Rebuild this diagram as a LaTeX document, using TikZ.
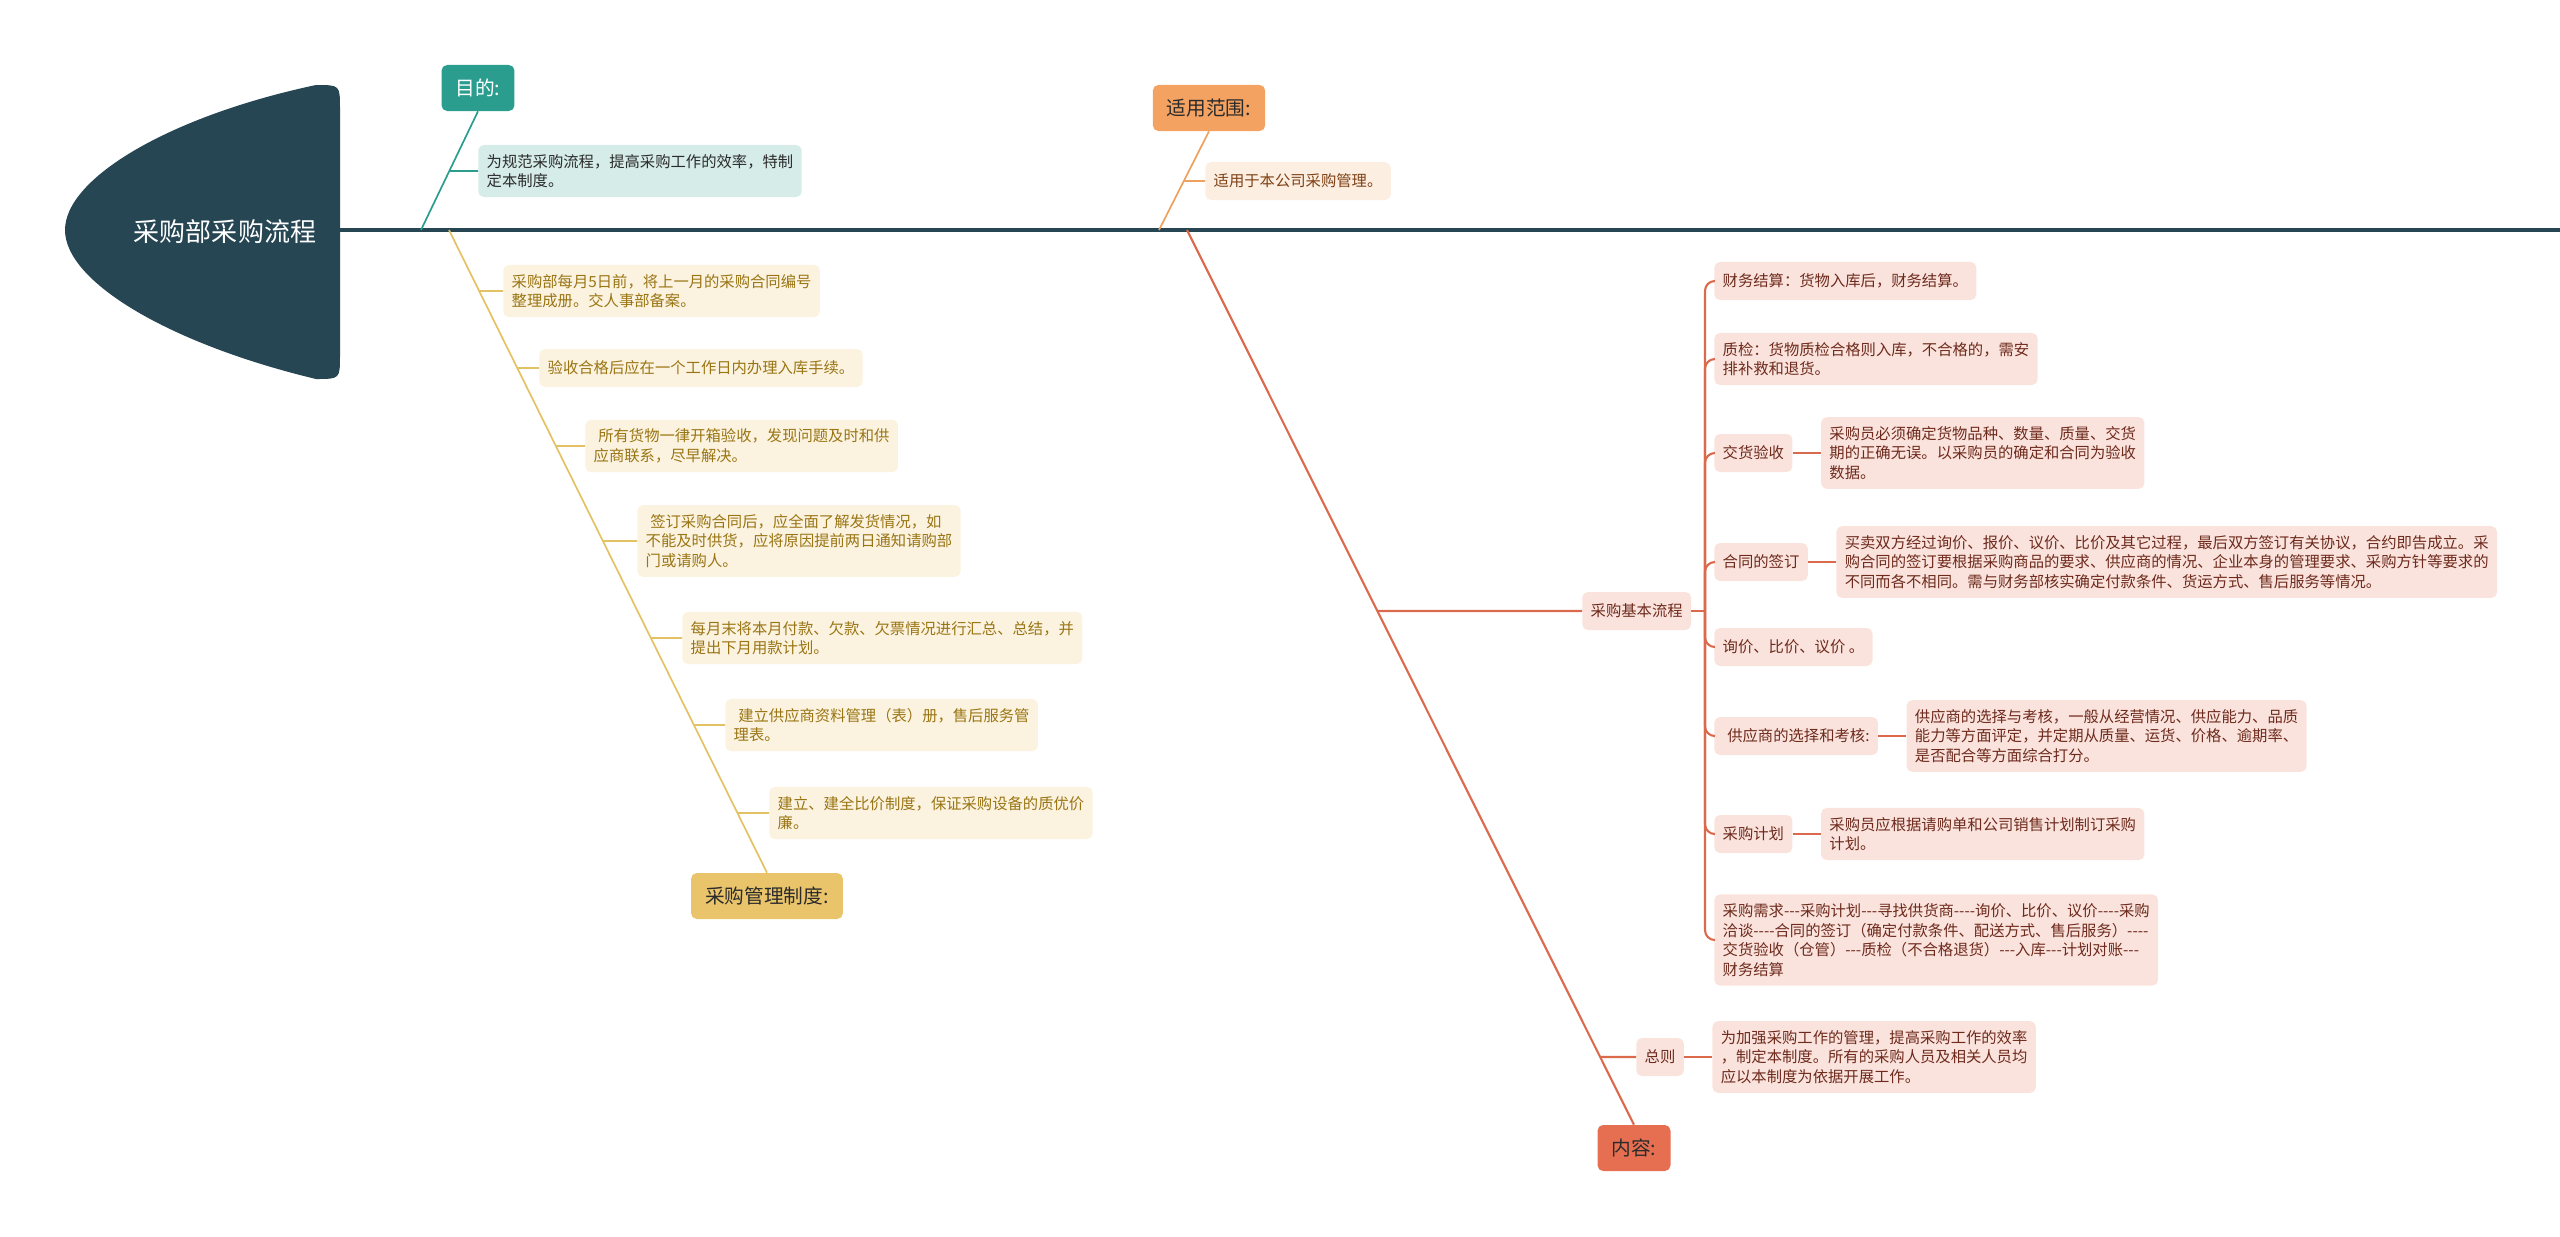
\documentclass[tikz,border=0pt]{standalone}
\usepackage{fontspec}
\setmainfont{Noto Sans CJK SC}
\usetikzlibrary{positioning, calc}
\definecolor{shen}{HTML}{264653}
\definecolor{qing}{HTML}{2A9D8F}
\definecolor{jin}{HTML}{E9C46A}
\definecolor{cheng}{HTML}{F4A261}
\definecolor{hong}{HTML}{E76F51}
\definecolor{hongxianse}{HTML}{DB6A4C}
\definecolor{jinxianse}{HTML}{E3C263}
\definecolor{chengxianse}{HTML}{EEA05E}
\definecolor{qingqian}{HTML}{D5ECE9}
\definecolor{jinqian}{HTML}{FBF3DF}
\definecolor{chengqian}{HTML}{FDEEE2}
\definecolor{hongqian}{HTML}{FAE3DD}
\definecolor{jinzi}{HTML}{9A7514}
\definecolor{chengzi}{HTML}{7E4114}
\definecolor{hongzi}{HTML}{6E2A1C}
\definecolor{heizi}{HTML}{2B2B2B}
\tikzset{
  biaoqian/.style={rectangle, rounded corners=4pt, minimum height=1.15cm, inner xsep=10pt,
                   font=\fontsize{14}{16}\selectfont, text=heizi},
  yezi/.style={rectangle, rounded corners=4pt, minimum height=0.95cm, inner xsep=6pt,
               inner ysep=6.5pt, align=left, anchor=west, font=\fontsize{10.9}{13.9}\selectfont},
  qingye/.style={yezi, fill=qingqian, text=heizi},
  jinye/.style={yezi, fill=jinqian, text=jinzi},
  chengye/.style={yezi, fill=chengqian, text=chengzi},
  hongye/.style={yezi, fill=hongqian, text=hongzi},
  zhuxian/.style={line width=2.6pt, color=shen},
  qingxian/.style={line width=1.2pt, color=qing},
  jinxian/.style={line width=1.2pt, color=jinxianse},
  chengxian/.style={line width=1.2pt, color=chengxianse},
  hongxian/.style={line width=1.5pt, color=hongxianse}
}
\begin{document}
\begin{tikzpicture}[x=0.025cm, y=-0.025cm, node distance=0.7cm]
  \useasboundingbox (0,0) rectangle (2560,1237);
  % eje central
  \coordinate (eje0) at (330,230);
  \coordinate (eje1) at (2560,230);
  \draw [zhuxian] (eje0) -- (eje1);
  \fill [shen] (65,230) .. controls (65,178) and (170,116) .. (316,85)
    .. controls (340,85) .. (340,109) -- (340,355) .. controls (340,379) .. (316,379)
    .. controls (170,344) and (65,282) .. cycle;
  \node (raiz) at (225,232) [text=white, font=\fontsize{18.5}{20}\selectfont] {采购部采购流程};

  % 目的
  \coordinate (q1) at (421,230);
  \node (mudi) at (478,88) [biaoqian, fill=qing, text=white] {目的:};
  \draw [qingxian] (q1) -- (mudi.south);
  \node (mudi1) at (478,171) [qingye] {为规范采购流程，提高采购工作的效率，特制\\定本制度。};
  \draw [qingxian] (intersection of q1--mudi.south and mudi1.west--mudi1.east) -- (mudi1.west);

  % 采购管理制度
  \coordinate (q2) at (449,230);
  \node (zhidu) at (767,896) [biaoqian, fill=jin] {采购管理制度:};
  \draw [jinxian] (q2) -- (zhidu.north);
  \node (zd1) at (503,291) [jinye] {采购部每月5日前，将上一月的采购合同编号\\整理成册。交人事部备案。};
  \node (zd2) at (539,368) [jinye] {验收合格后应在一个工作日内办理入库手续。};
  \node (zd3) at (585,446) [jinye] {\hspace*{0.3em}所有货物一律开箱验收，发现问题及时和供\\应商联系，尽早解决。};
  \node (zd4) at (637,541) [jinye] {\hspace*{0.3em}签订采购合同后，应全面了解发货情况，如\\不能及时供货，应将原因提前两日通知请购部\\门或请购人。};
  \node (zd5) at (682,638) [jinye] {每月末将本月付款、欠款、欠票情况进行汇总、总结，并\\提出下月用款计划。};
  \node (zd6) at (725,725) [jinye] {\hspace*{0.3em}建立供应商资料管理（表）册，售后服务管\\理表。};
  \node (zd7) at (769,813) [jinye] {建立、建全比价制度，保证采购设备的质优价\\廉。};
  \foreach \i in {1,...,7}
    \draw [jinxian] (intersection of q2--zhidu.north and zd\i.west--zd\i.east) -- (zd\i.west);

  % 适用范围
  \coordinate (q3) at (1159,230);
  \node (fanwei) at (1209,108) [biaoqian, fill=cheng] {适用范围:};
  \draw [chengxian] (q3) -- (fanwei.south);
  \node (fanwei1) at (1205,181) [chengye] {适用于本公司采购管理。};
  \draw [chengxian] (intersection of q3--fanwei.south and fanwei1.west--fanwei1.east) -- (fanwei1.west);

  % 内容
  \coordinate (q4) at (1187,230);
  \node (neirong) at (1634,1148) [biaoqian, fill=hong] {内容:};
  \draw [hongxian] (q4) -- (neirong.north);
  \node (liucheng) at (1582,611) [hongye] {采购基本流程};
  \node (zongze) at (1636,1057) [hongye] {总则};
  \node (zongze1) [hongye, right=of zongze] {为加强采购工作的管理，提高采购工作的效率\\，制定本制度。所有的采购人员及相关人员均\\应以本制度为依据开展工作。};
  \foreach \h in {liucheng, zongze}
    \draw [hongxian] (intersection of q4--neirong.north and \h.west--\h.east) -- (\h.west);
  \draw [hongxian] (zongze.east) -- (zongze1.west);

  % 采购基本流程
  \coordinate (lcj) at (1705,611);
  \draw [hongxian] (liucheng.east) -- (lcj);
  \node (lc1) at (1714,281) [hongye] {财务结算：货物入库后，财务结算。};
  \node (lc2) at (1714,359) [hongye] {质检：货物质检合格则入库，不合格的，需安\\排补救和退货。};
  \node (lc3) at (1714,453) [hongye] {交货验收};
  \node (lc3a) [hongye, right=of lc3] {采购员必须确定货物品种、数量、质量、交货\\期的正确无误。以采购员的确定和合同为验收\\数据。};
  \node (lc4) at (1714,562) [hongye] {合同的签订};
  \node (lc4a) [hongye, right=of lc4] {买卖双方经过询价、报价、议价、比价及其它过程，最后双方签订有关协议，合约即告成立。采\\购合同的签订要根据采购商品的要求、供应商的情况、企业本身的管理要求、采购方针等要求的\\不同而各不相同。需与财务部核实确定付款条件、货运方式、售后服务等情况。};
  \node (lc5) at (1714,647) [hongye] {询价、比价、议价 。};
  \node (lc6) at (1714,736) [hongye] {\hspace*{0.3em}供应商的选择和考核:};
  \node (lc6a) [hongye, right=of lc6] {供应商的选择与考核，一般从经营情况、供应能力、品质\\能力等方面评定，并定期从质量、运货、价格、逾期率、\\是否配合等方面综合打分。};
  \node (lc7) at (1714,834) [hongye] {采购计划};
  \node (lc7a) [hongye, right=of lc7] {采购员应根据请购单和公司销售计划制订采购\\计划。};
  \node (lc8) at (1714,940) [hongye] {采购需求-{}-{}-采购计划-{}-{}-寻找供货商-{}-{}-{}-询价、比价、议价-{}-{}-{}-采购\\洽谈-{}-{}-{}-合同的签订（确定付款条件、配送方式、售后服务）-{}-{}-{}-\\交货验收（仓管）-{}-{}-质检（不合格退货）-{}-{}-入库-{}-{}-计划对账-{}-{}-\\财务结算};
  \foreach \i in {1,...,8}
    \draw [hongxian, rounded corners=7] (lcj) |- (lc\i.west);
  \foreach \h in {lc3, lc4, lc6, lc7}
    \draw [hongxian] (\h.east) -- (\h a.west);
\end{tikzpicture}
\end{document}
